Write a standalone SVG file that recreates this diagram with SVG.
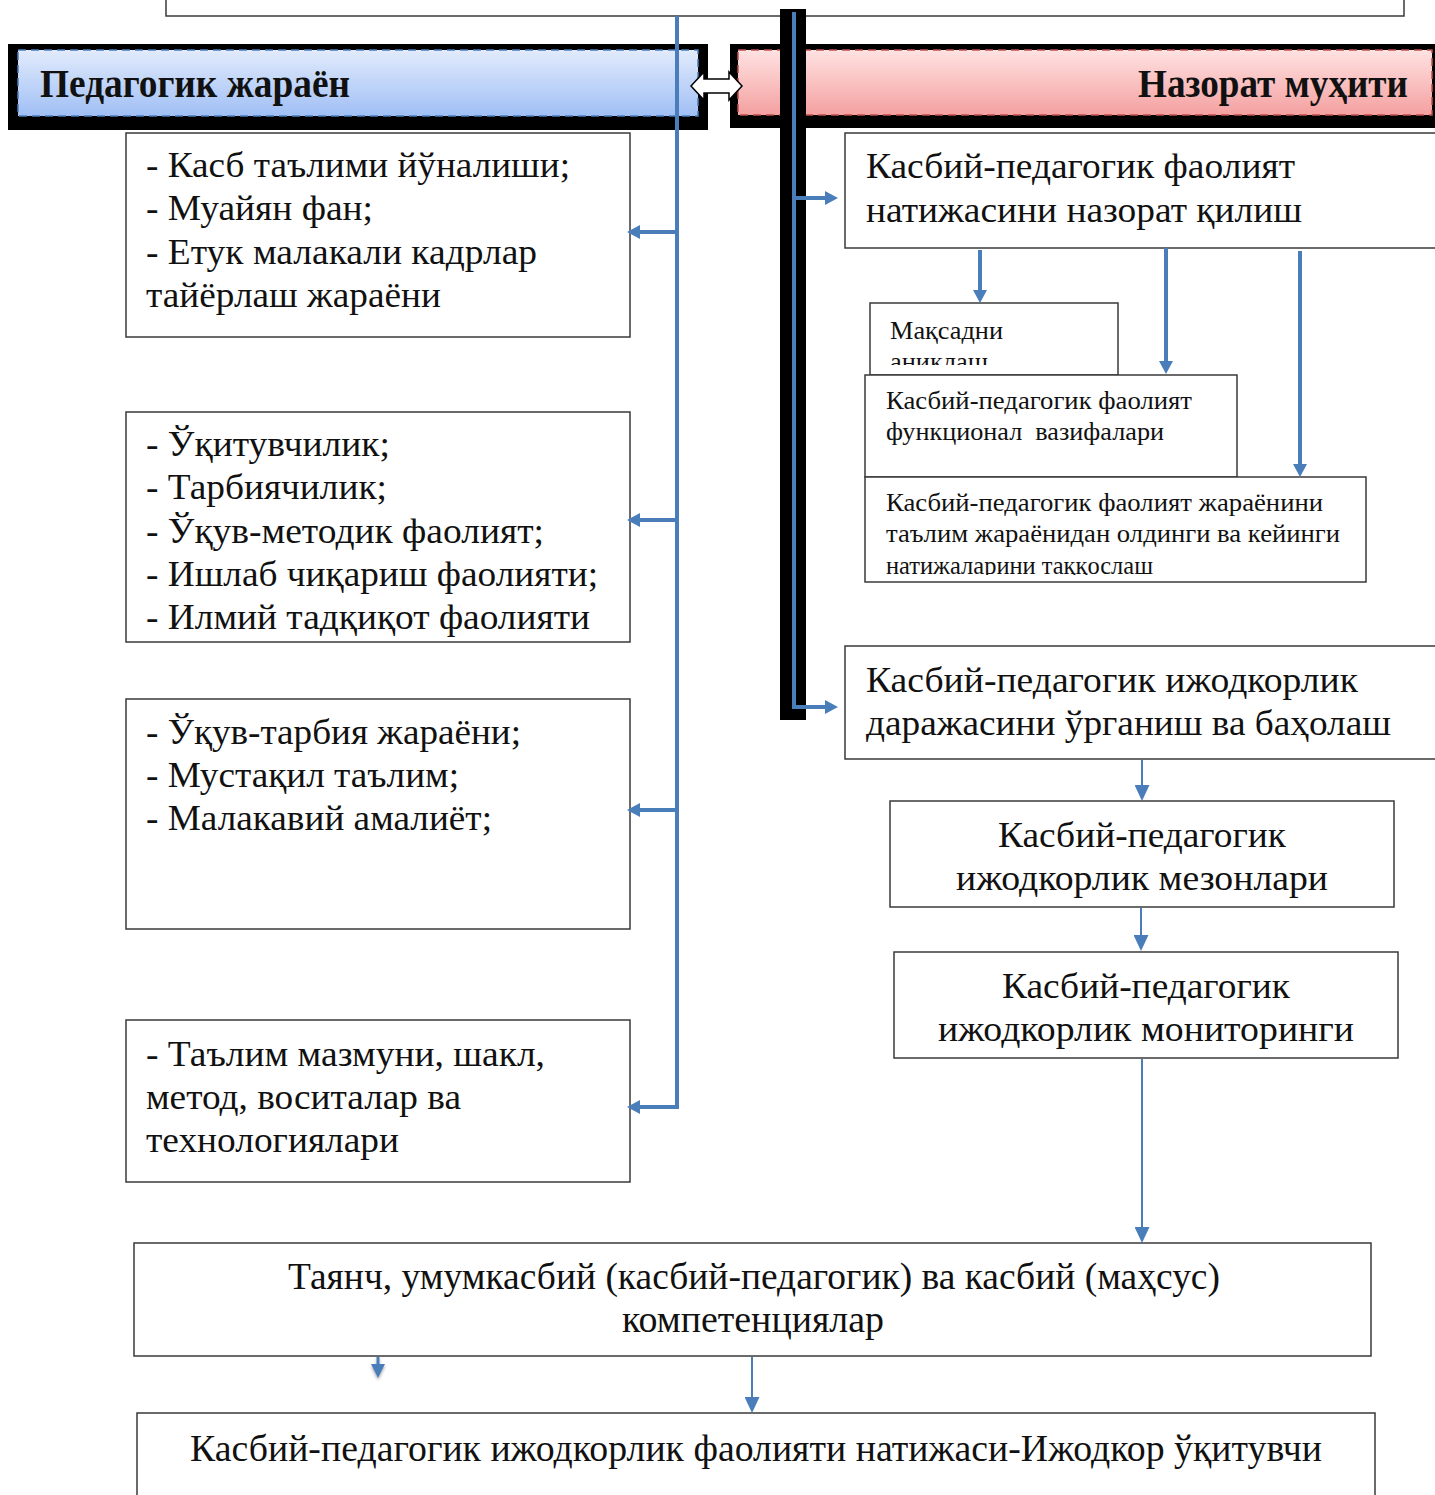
<svg xmlns="http://www.w3.org/2000/svg" width="1435" height="1495" viewBox="0 0 1435 1495">
<style>
.box{fill:#fff;stroke:#3a3a3a;stroke-width:1.5}
.t{font-family:"Liberation Serif","Times New Roman",serif;font-size:36px;fill:#111}
.tc{font-family:"Liberation Serif","Times New Roman",serif;font-size:38px;fill:#111}
.ts{font-family:"Liberation Serif","Times New Roman",serif;font-size:25px;fill:#111}
.th{font-family:"Liberation Serif","Times New Roman",serif;font-size:40px;font-weight:bold;fill:#111}
.c{fill:none;stroke:#4A7EBB;stroke-width:4}
.cn{fill:none;stroke:#4A7EBB;stroke-width:2}
</style>
<defs>
<linearGradient id="gb" x1="0" y1="0" x2="0" y2="1"><stop offset="0" stop-color="#e2ebfc"/><stop offset="1" stop-color="#a0bff5"/></linearGradient>
<linearGradient id="gr" x1="0" y1="0" x2="0" y2="1"><stop offset="0" stop-color="#ffe2e2"/><stop offset="1" stop-color="#f4a0a0"/></linearGradient>
<marker id="ah" markerUnits="userSpaceOnUse" markerWidth="13" markerHeight="14" refX="1" refY="7" orient="auto"><path d="M0,0 L13,7 L0,14 z" fill="#4A7EBB"/></marker>
<marker id="an" markerUnits="userSpaceOnUse" markerWidth="16" markerHeight="15" refX="1" refY="7.5" orient="auto"><path d="M0,0 L16,7.5 L0,15 z" fill="#4A7EBB"/></marker>
<clipPath id="clipA"><rect x="870" y="303" width="248" height="62"/></clipPath>
<clipPath id="clipC"><rect x="865" y="477" width="501" height="98"/></clipPath>
<filter id="sh" x="-50%" y="-50%" width="200%" height="200%"><feDropShadow dx="0" dy="2" stdDeviation="1.5" flood-color="#000" flood-opacity="0.35"/></filter>
</defs>

<g id="top-box"><rect class="box" x="166" y="-10" width="1238" height="26"/></g>

<g id="header-left">
<rect x="8" y="44" width="700" height="86" fill="#000"/>
<rect x="18" y="50" width="680" height="66" fill="url(#gb)" stroke="#4a7ebb" stroke-width="1.5" stroke-dasharray="8,5"/>
<text class="th" x="40" y="97" textLength="310" lengthAdjust="spacingAndGlyphs">Педагогик жараён</text>
</g>
<g id="header-right">
<rect x="730" y="44" width="710" height="84" fill="#000"/>
<rect x="738" y="50" width="694" height="65" fill="url(#gr)" stroke="#c0504d" stroke-width="1.5" stroke-dasharray="8,5"/>
<text class="th" x="1138" y="97" textLength="270" lengthAdjust="spacingAndGlyphs">Назорат муҳити</text>
</g>
<g id="double-arrow"><polygon points="691,86 704,72 704,79 729,79 729,72 742,86 729,100 729,93 704,93 704,100" fill="#fff" stroke="#000" stroke-width="1.5"/></g>

<g id="left-1"><rect class="box" x="126" y="133" width="504" height="204"/>
<text class="t" x="146" y="177" textLength="424" lengthAdjust="spacingAndGlyphs">- Касб таълими йўналиши;</text>
<text class="t" x="146" y="220" textLength="227" lengthAdjust="spacingAndGlyphs">- Муайян фан;</text>
<text class="t" x="146" y="264" textLength="391" lengthAdjust="spacingAndGlyphs">- Етук малакали кадрлар</text>
<text class="t" x="146" y="307" textLength="295" lengthAdjust="spacingAndGlyphs">тайёрлаш жараёни</text></g>

<g id="left-2"><rect class="box" x="126" y="412" width="504" height="230"/>
<text class="t" x="146" y="456" textLength="244" lengthAdjust="spacingAndGlyphs">- Ўқитувчилик;</text>
<text class="t" x="146" y="499" textLength="241" lengthAdjust="spacingAndGlyphs">- Тарбиячилик;</text>
<text class="t" x="146" y="543" textLength="398" lengthAdjust="spacingAndGlyphs">- Ўқув-методик фаолият;</text>
<text class="t" x="146" y="586" textLength="452" lengthAdjust="spacingAndGlyphs">- Ишлаб чиқариш фаолияти;</text>
<text class="t" x="146" y="629" textLength="444" lengthAdjust="spacingAndGlyphs">- Илмий тадқиқот фаолияти</text></g>

<g id="left-3"><rect class="box" x="126" y="699" width="504" height="230"/>
<text class="t" x="146" y="744" textLength="375" lengthAdjust="spacingAndGlyphs">- Ўқув-тарбия жараёни;</text>
<text class="t" x="146" y="787" textLength="313" lengthAdjust="spacingAndGlyphs">- Мустақил таълим;</text>
<text class="t" x="146" y="830" textLength="346" lengthAdjust="spacingAndGlyphs">- Малакавий амалиёт;</text></g>

<g id="left-4"><rect class="box" x="126" y="1020" width="504" height="162"/>
<text class="t" x="146" y="1066" textLength="399" lengthAdjust="spacingAndGlyphs">- Таълим мазмуни, шакл,</text>
<text class="t" x="146" y="1109" textLength="315" lengthAdjust="spacingAndGlyphs">метод, воситалар ва</text>
<text class="t" x="146" y="1152" textLength="253" lengthAdjust="spacingAndGlyphs">технологиялари</text></g>

<g id="right-1"><rect class="box" x="845" y="133" width="600" height="115"/>
<text class="t" x="866" y="178" textLength="429" lengthAdjust="spacingAndGlyphs">Касбий-педагогик фаолият</text>
<text class="t" x="866" y="222" textLength="436" lengthAdjust="spacingAndGlyphs">натижасини назорат қилиш</text></g>

<g id="small-a"><rect class="box" x="870" y="303" width="248" height="72"/>
<g clip-path="url(#clipA)">
<text class="ts" x="890" y="339" textLength="113" lengthAdjust="spacingAndGlyphs">Мақсадни</text>
<text class="ts" x="890" y="370" textLength="98" lengthAdjust="spacingAndGlyphs">аниқлаш</text></g></g>

<g id="small-b"><rect class="box" x="865" y="375" width="372" height="102"/>
<text class="ts" x="886" y="409" textLength="306" lengthAdjust="spacingAndGlyphs">Касбий-педагогик фаолият</text>
<text class="ts" x="886" y="440" textLength="278" lengthAdjust="spacingAndGlyphs" style="white-space:pre">функционал  вазифалари</text></g>

<g id="small-c"><rect class="box" x="865" y="477" width="501" height="105"/>
<g clip-path="url(#clipC)">
<text class="ts" x="886" y="511" textLength="437" lengthAdjust="spacingAndGlyphs">Касбий-педагогик фаолият жараёнини</text>
<text class="ts" x="886" y="542" textLength="454" lengthAdjust="spacingAndGlyphs">таълим жараёнидан олдинги ва кейинги</text>
<text class="ts" x="886" y="574" textLength="267" lengthAdjust="spacingAndGlyphs">натижаларини таққослаш</text></g></g>

<g id="right-2"><rect class="box" x="845" y="646" width="600" height="113"/>
<text class="t" x="866" y="692" textLength="492" lengthAdjust="spacingAndGlyphs">Касбий-педагогик ижодкорлик</text>
<text class="t" x="866" y="735" textLength="525" lengthAdjust="spacingAndGlyphs">даражасини ўрганиш ва баҳолаш</text></g>

<g id="right-3"><rect class="box" x="890" y="801" width="504" height="106"/>
<text class="t" x="998" y="847" textLength="288" lengthAdjust="spacingAndGlyphs">Касбий-педагогик</text>
<text class="t" x="956" y="890" textLength="372" lengthAdjust="spacingAndGlyphs">ижодкорлик мезонлари</text></g>

<g id="right-4"><rect class="box" x="894" y="952" width="504" height="106"/>
<text class="t" x="1002" y="998" textLength="288" lengthAdjust="spacingAndGlyphs">Касбий-педагогик</text>
<text class="t" x="938" y="1041" textLength="416" lengthAdjust="spacingAndGlyphs">ижодкорлик мониторинги</text></g>

<g id="bottom-1"><rect class="box" x="134" y="1243" width="1237" height="113"/>
<text class="tc" x="288" y="1289" textLength="932" lengthAdjust="spacingAndGlyphs">Таянч, умумкасбий (касбий-педагогик) ва касбий (маҳсус)</text>
<text class="tc" x="622" y="1332" textLength="262" lengthAdjust="spacingAndGlyphs">компетенциялар</text></g>

<g id="bottom-2"><rect class="box" x="137" y="1413" width="1238" height="100"/>
<text class="tc" x="190" y="1461" textLength="1132" lengthAdjust="spacingAndGlyphs">Касбий-педагогик ижодкорлик фаолияти натижаси-Ижодкор ўқитувчи</text></g>

<g id="connectors">
<line class="c" x1="677" y1="16" x2="677" y2="1109"/>
<line class="c" x1="677" y1="232" x2="639" y2="232" marker-end="url(#ah)"/>
<line class="c" x1="677" y1="520" x2="639" y2="520" marker-end="url(#ah)"/>
<line class="c" x1="677" y1="810" x2="639" y2="810" marker-end="url(#ah)"/>
<line class="c" x1="679" y1="1107" x2="639" y2="1107" marker-end="url(#ah)"/>
<rect x="780" y="9" width="26" height="711" fill="#000"/>
<line class="c" x1="794" y1="12" x2="794" y2="709"/>
<line class="c" x1="792" y1="198" x2="826" y2="198" marker-end="url(#ah)"/>
<line class="c" x1="792" y1="707" x2="826" y2="707" marker-end="url(#ah)"/>
<line class="c" x1="980" y1="250" x2="980" y2="291" marker-end="url(#ah)"/>
<line class="c" x1="1166" y1="248" x2="1166" y2="362" marker-end="url(#ah)"/>
<line class="c" x1="1300" y1="251" x2="1300" y2="465" marker-end="url(#ah)"/>
<line class="cn" x1="1142" y1="760" x2="1142" y2="786" marker-end="url(#an)"/>
<line class="cn" x1="1141" y1="908" x2="1141" y2="936" marker-end="url(#an)"/>
<line class="cn" x1="1142" y1="1059" x2="1142" y2="1228" marker-end="url(#an)"/>
<line class="cn" x1="752" y1="1357" x2="752" y2="1398" marker-end="url(#an)"/>
<path d="M376.5,1357 L379.5,1357 L379.5,1364 L385,1364 L378,1378 L371,1364 L376.5,1364 z" fill="#4A7EBB" filter="url(#sh)"/>
</g>
</svg>
